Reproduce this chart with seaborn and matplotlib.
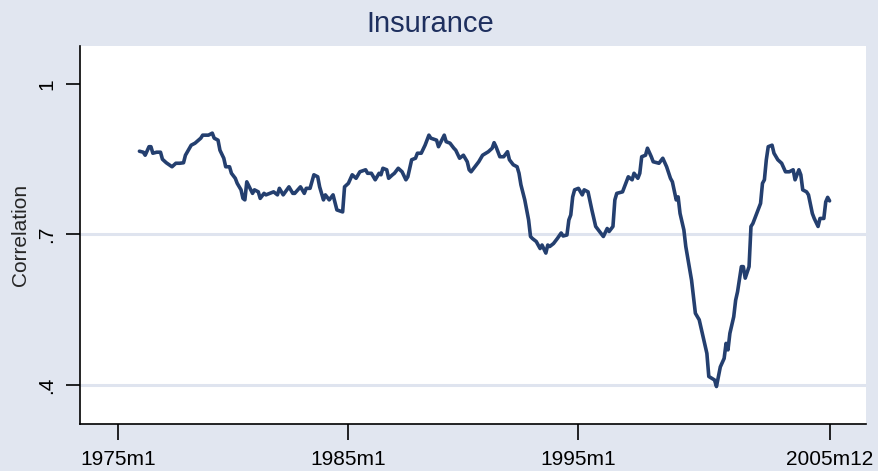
import seaborn as sns
import matplotlib.pyplot as plt
import pandas as pd

# months counted from 1975m1
months = [11, 13, 14, 16, 17, 18, 20, 22, 23, 25, 28, 30, 32, 34, 35, 38, 40, 43, 44, 47,
          49, 50, 52, 53, 55, 56, 58, 59, 61, 62, 64, 65, 66, 67, 70, 71, 73, 74, 76, 77,
          79, 81, 83, 84, 86, 89, 91, 92, 95, 97, 98, 100, 102, 104, 105, 107, 108, 110, 112, 114,
          117, 118, 120, 122, 124, 126, 129, 130, 132, 134, 136, 137, 138, 140, 141, 143, 144, 146, 148, 150,
          151, 153, 155, 156, 158, 160, 162, 163, 166, 167, 170, 171, 173, 175, 176, 178, 180, 182, 183, 184,
          186, 188, 190, 193, 195, 196, 197, 199, 201, 203, 204, 206, 208, 209, 210, 212, 214, 215, 216, 218,
          220, 221, 223, 224, 225, 227, 229, 231, 232, 234, 235, 236, 237, 238, 240, 242, 243, 245, 247, 249,
          251, 253, 255, 256, 258, 259, 260, 263, 264, 266, 268, 269, 271, 272, 273, 275, 276, 278, 279, 282,
          284, 286, 288, 289, 291, 292, 293, 295, 296, 299, 301, 303, 305, 307, 308, 311, 312, 314, 316, 317,
          318, 319, 321, 322, 323, 325, 326, 327, 329, 330, 331, 333, 335, 336, 337, 338, 339, 341, 342, 344,
          346, 348, 350, 352, 353, 355, 356, 357, 359, 360, 362, 363, 365, 366, 368, 369, 370, 371]
corr = [0.866, 0.864, 0.858, 0.875, 0.875, 0.862, 0.864, 0.864, 0.850, 0.843, 0.835, 0.842, 0.842, 0.843, 0.858, 0.878, 0.882, 0.892, 0.898, 0.898,
        0.902, 0.892, 0.888, 0.868, 0.852, 0.835, 0.835, 0.822, 0.812, 0.802, 0.789, 0.772, 0.769, 0.805, 0.782, 0.789, 0.785, 0.772, 0.782, 0.779,
        0.782, 0.785, 0.779, 0.792, 0.779, 0.795, 0.782, 0.782, 0.795, 0.782, 0.792, 0.792, 0.819, 0.815, 0.795, 0.769, 0.779, 0.769, 0.779, 0.749,
        0.745, 0.795, 0.802, 0.819, 0.812, 0.825, 0.829, 0.822, 0.822, 0.809, 0.822, 0.819, 0.832, 0.829, 0.812, 0.819, 0.822, 0.832, 0.825, 0.809,
        0.815, 0.849, 0.852, 0.862, 0.862, 0.878, 0.898, 0.892, 0.888, 0.875, 0.898, 0.885, 0.882, 0.872, 0.868, 0.852, 0.858, 0.845, 0.829, 0.825,
        0.835, 0.845, 0.858, 0.865, 0.872, 0.883, 0.875, 0.855, 0.855, 0.865, 0.849, 0.839, 0.835, 0.822, 0.799, 0.769, 0.729, 0.696, 0.692, 0.686,
        0.672, 0.679, 0.663, 0.679, 0.676, 0.682, 0.692, 0.703, 0.697, 0.699, 0.729, 0.739, 0.775, 0.789, 0.792, 0.779, 0.789, 0.785, 0.749, 0.716,
        0.706, 0.696, 0.712, 0.706, 0.716, 0.769, 0.782, 0.785, 0.795, 0.815, 0.809, 0.822, 0.812, 0.822, 0.855, 0.858, 0.872, 0.855, 0.845, 0.842,
        0.852, 0.835, 0.812, 0.805, 0.769, 0.775, 0.742, 0.709, 0.676, 0.609, 0.543, 0.530, 0.496, 0.463, 0.417, 0.410, 0.397, 0.436, 0.453, 0.483,
        0.470, 0.503, 0.536, 0.569, 0.586, 0.636, 0.636, 0.613, 0.636, 0.716, 0.722, 0.742, 0.762, 0.802, 0.809, 0.849, 0.875, 0.878, 0.862, 0.849,
        0.842, 0.825, 0.825, 0.829, 0.809, 0.829, 0.819, 0.789, 0.785, 0.779, 0.742, 0.732, 0.716, 0.732, 0.732, 0.765, 0.774, 0.767]

tick_pos = [0, 120, 240, 371]
tick_lab = ['1975m1', '1985m1', '1995m1', '2005m12']
ytick_pos = [0.4, 0.7, 1.0]
ytick_lab = ['.4', '.7', '1']

df = pd.DataFrame({'month': months, 'corr': corr})

sns.set_style('white')
plt.rcParams['font.family'] = ['Liberation Sans', 'DejaVu Sans']

bg = '#e1e6f0'
fig = plt.figure(figsize=(8.79, 4.71), dpi=100, facecolor=bg)
ax = fig.add_axes([80 / 879, 1 - 424 / 471, 786 / 879, 378 / 471])
ax.set_facecolor('white')

for g in [0.4, 0.7]:
    ax.axhline(g, color='#dfe4ef', linewidth=2.2, zorder=1)

sns.lineplot(data=df, x='month', y='corr', color='#243f6f', linewidth=2.6, ax=ax, zorder=3)

ax.set_xlim(-20, 390)
ax.set_ylim(0.3223, 1.0757)
ax.set_xticks(tick_pos)
ax.set_xticklabels(tick_lab, fontsize=15)
ax.set_yticks(ytick_pos)
ax.set_yticklabels(ytick_lab, fontsize=15, rotation=90, va='center')
ax.tick_params(axis='x', length=11.5, width=1.2, pad=7, colors='black', direction='out', bottom=True)
ax.tick_params(axis='y', length=10, width=1.2, pad=7, colors='black', direction='out', left=True)
ax.set_xlabel('')
ax.set_ylabel('Correlation', fontsize=15, labelpad=5)

for s in ['top', 'right']:
    ax.spines[s].set_visible(False)
for s in ['left', 'bottom']:
    ax.spines[s].set_color('black')
    ax.spines[s].set_linewidth(1.2)

fig.text(430 / 879, 1 - 24 / 471, 'Insurance', ha='center', va='center', fontsize=21, color='#1e2f5e')

fig.savefig('out.png', dpi=100, facecolor=bg)
